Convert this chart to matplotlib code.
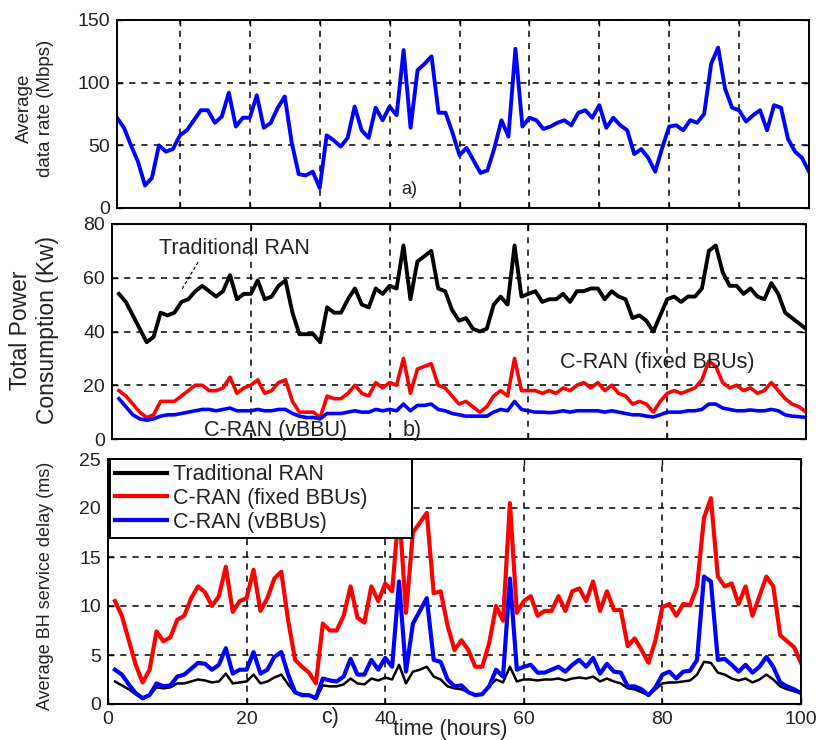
import numpy as np
import matplotlib
matplotlib.use("Agg")
import matplotlib.pyplot as plt

plt.rcParams['font.family'] = ['Liberation Sans', 'DejaVu Sans']

hours = list(range(1, 101))

data_rate = [72, 64, 50, 37, 18, 24, 50, 45, 47, 58,
             62, 70, 78, 78, 68, 73, 92, 65, 72, 72,
             90, 64, 68, 80, 89, 52, 27, 26, 29, 16,
             58, 54, 49, 56, 81, 62, 56, 80, 70, 81,
             74, 126, 64, 110, 115, 121, 76, 76, 60, 42,
             48, 38, 28, 30, 48, 70, 57, 127, 65, 72,
             70, 63, 65, 68, 70, 66, 76, 78, 72, 82,
             64, 72, 66, 62, 43, 47, 40, 29, 48, 65,
             66, 62, 70, 68, 75, 115, 128, 95, 80, 78,
             69, 74, 78, 62, 82, 80, 55, 45, 40, 29]

power_trad = [54, 51, 46, 41, 36, 38, 47, 46, 47, 51,
              52, 55, 57, 55, 53, 55, 61, 52, 54, 54,
              59, 52, 53, 57, 59, 47, 39, 39, 39, 36,
              49, 47, 47, 52, 56, 50, 49, 56, 54, 57,
              56, 72, 52, 66, 68, 70, 56, 55, 48, 44,
              45, 41, 40, 41, 50, 53, 50, 72, 53, 54,
              55, 51, 52, 52, 54, 51, 55, 55, 56, 56,
              52, 55, 53, 52, 45, 46, 44, 40, 46, 52,
              53, 51, 53, 53, 56, 70, 72, 62, 57, 57,
              54, 56, 53, 52, 58, 54, 47, 45, 43, 41]

power_fixed = [18, 16, 13, 10, 8, 9, 14, 14, 14, 16,
               18, 20, 20, 18, 18, 19, 23, 17, 19, 20,
               22, 17, 18, 21, 22, 14, 10, 10, 10, 8,
               16, 15, 15, 17, 20, 17, 16, 21, 19, 21,
               20, 30, 17, 26, 27, 28, 20, 19, 16, 13,
               14, 12, 10, 12, 16, 18, 16, 30, 18, 18,
               18, 17, 18, 17, 19, 18, 20, 21, 19, 21,
               18, 20, 17, 16, 13, 14, 13, 10, 14, 17,
               18, 17, 18, 19, 22, 29, 27, 21, 19, 20,
               18, 19, 17, 18, 21, 18, 15, 13, 12, 10]

power_vbbu = [15, 12, 9, 7.5, 7, 7.5, 8.5, 9, 9, 9.5,
              10, 10.5, 11, 11, 10.5, 11, 11.5, 10.5, 10.5, 10.5,
              11, 10.5, 10.5, 11, 11, 9.5, 8.5, 8, 8, 7.5,
              9.5, 9.5, 9.5, 10, 10.5, 10, 10, 11, 10.5, 11,
              10.5, 13, 10.5, 12.5, 12.5, 13, 11, 10.5, 9.5, 9,
              8.5, 8.5, 8.5, 8.5, 10, 11, 10.5, 14, 11, 10.5,
              10, 10, 9.8, 10, 10.5, 10, 10.5, 10.5, 10.5, 10.5,
              10, 10.5, 10, 9.5, 9, 9, 8.5, 8.2, 9, 10,
              10, 10, 10.5, 10.5, 11, 13, 13, 11.5, 11, 10.5,
              10.5, 10.8, 10.5, 10.5, 11, 10.5, 9, 8.5, 8.3, 8]

delay_trad = [2.3, 1.9, 1.5, 1.0, 0.5, 0.9, 1.7, 1.6, 1.7, 2.1,
              2.1, 2.3, 2.5, 2.4, 2.2, 2.3, 3.1, 2.1, 2.2, 2.3,
              3.0, 2.1, 2.3, 2.7, 3.0, 2.0, 1.1, 1.0, 0.9, 0.5,
              1.9, 1.8, 1.8, 2.0, 2.6, 2.1, 2.0, 2.6, 2.4, 2.7,
              2.5, 4.0, 2.1, 3.3, 3.5, 3.8, 2.8, 2.5, 1.8, 1.6,
              1.5, 1.2, 0.9, 1.0, 1.8, 2.5, 2.2, 3.8, 2.3, 2.5,
              2.5, 2.4, 2.5, 2.5, 2.6, 2.4, 2.6, 2.7, 2.6, 2.8,
              2.3, 2.6, 2.3, 2.1, 1.6, 1.5, 1.2, 0.9, 1.5, 2.1,
              2.2, 2.2, 2.3, 2.4, 3.0, 4.3, 4.2, 3.2, 3.0, 2.6,
              2.4, 2.6, 2.2, 2.5, 3.0, 2.5, 1.8, 1.5, 1.3, 1.1]

delay_fixed = [10.5, 9, 6.5, 4, 2.2, 3.5, 7.4, 6.4, 6.8, 8.6,
               9, 10.8, 12, 11.4, 10, 11, 14, 9.4, 10.5, 10.8,
               13.7, 9.5, 10.8, 12.8, 13.5, 8.5, 4.5, 3.8, 3.2, 2.1,
               8.2, 7.5, 7.5, 9, 12, 8.8, 8.3, 12, 10.5, 12.3,
               11.5, 20, 9.3, 17.5, 18.5, 19.5, 11.3, 11.5, 8, 5.5,
               6.5, 5.5, 3.8, 3.8, 6.2, 10, 8.5, 20.5, 9.3, 10.5,
               11, 9, 9.5, 9.5, 11, 9.5, 11.5, 11.8, 10.5, 12.5,
               9.5, 11.5, 9.6, 9.6, 5.9, 6.7, 5.5, 4.2, 6.5, 9.9,
               10.2, 9, 10.2, 10.1, 12, 19, 21, 13, 12, 12.3,
               10.2, 12, 9, 11, 13, 12, 7, 6.4, 5.8, 4.2]

delay_vbbu = [3.5, 3, 2, 1.1, 0.6, 0.9, 2.1, 1.8, 1.9, 2.8,
              3, 3.6, 4.2, 4.1, 3.5, 4, 5.7, 3.1, 3.5, 3.5,
              5.3, 3.1, 3.5, 4.8, 5.3, 3, 1.2, 0.9, 0.9, 0.6,
              2.6, 2.4, 2.3, 2.8, 4.6, 3, 3, 4.5, 3.5, 4.7,
              3.8, 12.5, 3.3, 8.2, 9.5, 10.8, 4.5, 4.3, 2.5, 1.8,
              1.9, 1.2, 0.9, 1, 1.8, 3.5, 2.8, 12.8, 3.5, 3.8,
              4, 3.2, 3.2, 3.5, 3.8, 3.3, 4, 4.5, 3.8, 4.7,
              3.1, 4.1, 3.3, 3.2, 1.8, 1.8, 1.5, 0.9, 1.7, 3,
              3.3, 2.6, 3.3, 3.4, 4.5, 13, 12.5, 4.5, 4.6, 4,
              3.3, 4, 3.2, 3.8, 4.8, 3.8, 2.2, 1.8, 1.5, 1.1]

legend_labels = ["Traditional RAN", "C-RAN (fixed BBUs)", "C-RAN (vBBUs)"]

W, H = 822, 740
fig = plt.figure(figsize=(W / 100, H / 100), dpi=100)


def box(l, t, r, b):
    return [l / W, 1 - b / H, (r - l) / W, (b - t) / H]


grid_kw = dict(color='black', linestyle=(0, (4, 4)), linewidth=1.1)
tick_fs = 14
txt_fs = 15.5
text_col = '#222222'


def style(ax):
    ax.tick_params(direction='in', top=True, right=True, labelsize=tick_fs,
                   length=4, width=1.0, pad=5, labelcolor=text_col)
    for s in ax.spines.values():
        s.set_linewidth(1.4)
    ax.grid(True, **grid_kw)


# ---- a) ----
ax1 = fig.add_axes(box(117, 20, 809, 208))
ax1.plot(hours, data_rate, color='#0000ff', lw=2.8)
ax1.set_xlim(1, 100)
ax1.set_ylim(0, 150)
ax1.set_xticks(range(10, 100, 10))
ax1.set_xticklabels([])
ax1.set_yticks([0, 50, 100, 150])
style(ax1)
ax1.text(41.6, 15, "a)", fontsize=13, va='center', ha='left', color=text_col)
fig.text(35 / W, 1 - 108 / H, "Average\ndata rate (Mbps)", rotation=90,
         ha='center', va='center', fontsize=13.5, linespacing=1.25, color=text_col)

# ---- b) ----
ax2 = fig.add_axes(box(112, 224, 806, 439))
ax2.plot(hours, power_trad, color='black', lw=2.8)
ax2.plot(hours, power_fixed, color='#ff0000', lw=2.6)
ax2.plot(hours, power_vbbu, color='#0000ff', lw=2.6)
ax2.set_xlim(0, 100)
ax2.set_ylim(0, 80)
ax2.set_xticks([20, 40, 60, 80])
ax2.set_xticklabels([])
ax2.set_yticks([0, 20, 40, 60, 80])
style(ax2)
ax2.text(17.6, 71, "Traditional RAN", fontsize=txt_fs, ha='center', va='center',
         color=text_col)
ax2.plot([12.4, 10.1], [65.8, 55.8], color='black', lw=0.8, linestyle=(0, (3, 2)))
ax2.text(78.5, 28.6, "C-RAN (fixed BBUs)", fontsize=txt_fs, ha='center', va='center',
         color=text_col)
ax2.text(23.5, 3.2, "C-RAN (vBBU)", fontsize=txt_fs, ha='center', va='center',
         color=text_col)
ax2.text(41.8, 3.2, "b)", fontsize=txt_fs, ha='left', va='center', color=text_col)
fig.text(34 / W, 1 - 330 / H, "Total Power\nConsumption (Kw)", rotation=90,
         ha='center', va='center', fontsize=16.5, linespacing=1.2, color=text_col)

# ---- c) ----
ax3 = fig.add_axes(box(108, 459, 801, 704))
l1, = ax3.plot(hours, delay_trad, color='black', lw=1.8)
l2, = ax3.plot(hours, delay_fixed, color='#ff0000', lw=3.0)
l3, = ax3.plot(hours, delay_vbbu, color='#0000ff', lw=3.0)
ax3.set_xlim(0, 100)
ax3.set_ylim(0, 25)
ax3.set_xticks([0, 20, 40, 60, 80, 100])
ax3.set_yticks([0, 5, 10, 15, 20, 25])
style(ax3)
leg = ax3.legend([l1, l2, l3], legend_labels, loc='upper left', mode='expand',
                 bbox_to_anchor=(0.003, 0.0, 0.435, 1.0), fontsize=txt_fs,
                 frameon=True, fancybox=False, framealpha=1, edgecolor='black',
                 borderpad=0.25, labelspacing=0.12, handlelength=2.4,
                 handletextpad=0.25, borderaxespad=0.0)
leg.get_frame().set_linewidth(1.4)
for t in leg.get_texts():
    t.set_color(text_col)
for h in leg.legend_handles:
    h.set_linewidth(3)
fig.text(45 / W, 1 - 586 / H, "Average BH service delay (ms)", rotation=90,
         ha='center', va='center', fontsize=13, color=text_col)
fig.text(330 / W, 1 - 718 / H, "c)", fontsize=txt_fs, ha='center', va='center',
         color=text_col)
fig.text(450 / W, 1 - 730 / H, "time (hours)", fontsize=txt_fs, ha='center',
         va='center', color=text_col)

fig.savefig("out.png", dpi=100)
